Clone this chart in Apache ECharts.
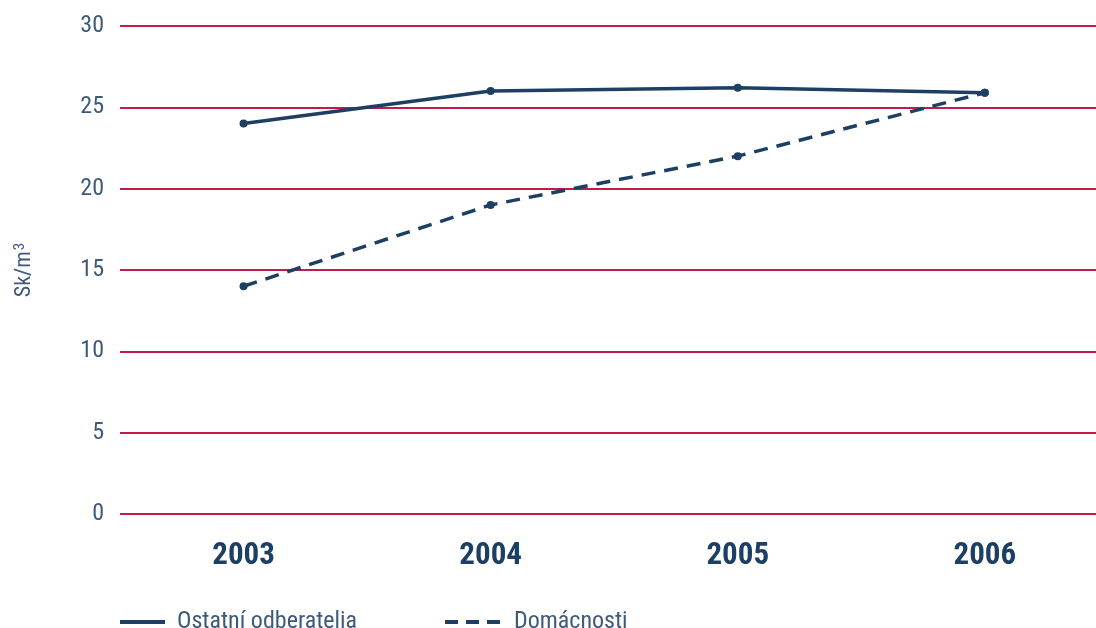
<!DOCTYPE html>
<html><head><meta charset="utf-8">
<script src="https://cdn.jsdelivr.net/npm/echarts@6/dist/echarts.min.js"></script>
<style>html,body{margin:0;padding:0;background:#fff}#c{width:1096px;height:628px}</style>
</head><body><div id="c"></div>
<script>
const categories = ['2003', '2004', '2005', '2006'];
const ostatni = [24, 26, 26.2, 25.9];
const domacnosti = [14, 19, 22, 25.9];
const seriesNames = ['Ostatní odberatelia', 'Domácnosti'];
const yTicks = [0, 5, 10, 15, 20, 25, 30];

const navy = '#1d3f64';
const labelColor = '#3f5a78';
const gridColor = '#c41a48';
const font = '"Roboto Condensed", "Liberation Sans Narrow", "Roboto", sans-serif';

const idx = categories.map((c, i) => i);
const toPairs = arr => arr.map((v, i) => [i, v]);

const chart = echarts.init(document.getElementById('c'), null, {renderer: 'canvas'});
chart.setOption({
  backgroundColor: '#fff',
  animation: false,
  grid: {left: 120, right: 0, top: 26, bottom: 114, containLabel: false},
  legend: [
    {data: [seriesNames[0]], left: 113, top: 605, itemWidth: 45, itemHeight: 14,
     itemStyle: {opacity: 0}, lineStyle: {width: 4},
     textStyle: {color: labelColor, fontSize: 24, fontFamily: font, padding: [0, 0, 0, 7]}},
    {data: [seriesNames[1]], left: 438, top: 605, itemWidth: 55, itemHeight: 14,
     itemStyle: {opacity: 0}, lineStyle: {width: 4, type: [13, 8]},
     textStyle: {color: labelColor, fontSize: 24, fontFamily: font, padding: [0, 0, 0, 9]}}
  ],
  xAxis: {
    type: 'value', min: -0.5, max: 3.45,
    axisLine: {show: false}, axisTick: {show: false}, splitLine: {show: false},
    axisLabel: {customValues: idx, formatter: v => categories[Math.round(v)] || '',
      color: navy, fontSize: 31, fontWeight: 'bold', fontFamily: font, margin: 27}
  },
  yAxis: {
    type: 'value', min: yTicks[0], max: yTicks[yTicks.length - 1], interval: 5,
    name: 'Sk/m{sup|3}', nameLocation: 'middle', nameGap: 84, nameRotate: 90,
    nameTextStyle: {color: labelColor, fontSize: 22, fontFamily: font,
      rich: {sup: {color: labelColor, fontSize: 15, fontFamily: font, verticalAlign: 'top', padding: [0, 0, 8, 1]}}},
    axisLine: {show: false}, axisTick: {show: false},
    axisLabel: {color: labelColor, fontSize: 24, fontFamily: font, margin: 16},
    splitLine: {lineStyle: {color: gridColor, width: 2}}
  },
  series: [
    {name: seriesNames[0], type: 'line', data: toPairs(ostatni), symbol: 'circle', symbolSize: 8,
     lineStyle: {color: navy, width: 3.5}, itemStyle: {color: navy}, z: 3},
    {name: seriesNames[1], type: 'line', data: toPairs(domacnosti), symbol: 'circle', symbolSize: 8,
     lineStyle: {color: navy, width: 3.5, type: [14, 9]}, itemStyle: {color: navy}, z: 3}
  ]
});
</script></body></html>
